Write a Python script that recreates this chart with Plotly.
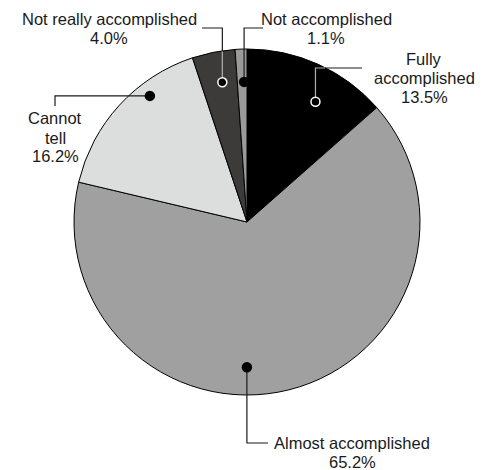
import math
import plotly.graph_objects as go

# ---- data ----
labels = ["Fully accomplished", "Almost accomplished", "Cannot tell",
          "Not really accomplished", "Not accomplished"]
values = [13.5, 65.2, 16.2, 4.0, 1.1]
label_lines = [["Fully", "accomplished"], ["Almost accomplished"], ["Cannot", "tell"],
               ["Not really accomplished"], ["Not accomplished"]]

# ---- style / layout ----
colors = ["#000000", "#a0a0a0", "#dcdddd", "#3d3a3a", "#9a9a9a"]
dark = [True, False, False, True, False]
W, H = 492, 470          # window size
OFF = 8                  # page body margin
FW, FH = W - OFF, H - OFF
CX, CY, R = 247, 222, 173
# dot placement within each slice: (fraction of slice sweep, fraction of radius)
dot_place = [(0.61, 0.80), (0.56, 0.84), (0.67, 0.92), (0.58, 0.82), (0.70, 0.81)]
# leader: 'v' = vertical first, 'h' = horizontal first; end point in px
leader = [("v", 362, 68), ("v", 268, 443), ("h", 55, 106), ("v", 202, 28), ("v", 263, 28)]
# label block centre in px
label_pos = [(424, 78), (352, 452.5), (55, 137.5), (109, 28.5), (326, 29)]
LINE_H = 19
FONT = "Liberation Sans, Arial, sans-serif"


def px(x):
    return (x - OFF) / FW


def py(y):
    return 1 - (y - OFF) / FH


total = sum(values)
starts, ends = [], []
acc = 0.0
for v in values:
    starts.append(acc / total * 360)
    acc += v
    ends.append(acc / total * 360)


def pt(angle, r):
    a = math.radians(angle)
    return CX + r * math.sin(a), CY - r * math.cos(a)


def dark_at(x, y):
    dx, dy = x - CX, y - CY
    if math.hypot(dx, dy) > R - 0.5:
        return False
    ang = math.degrees(math.atan2(dx, -dy)) % 360
    for i in range(len(values)):
        if starts[i] <= ang < ends[i]:
            return dark[i]
    return False


fig = go.Figure()
fig.add_trace(go.Pie(
    labels=labels, values=values, sort=False, direction="clockwise", rotation=0,
    marker=dict(colors=colors, line=dict(color="#000000", width=1)),
    textinfo="none", hoverinfo="label+percent",
    domain=dict(x=[px(CX - R), px(CX + R)], y=[py(CY + R), py(CY - R)]),
))

shapes = []
annotations = []
for i in range(len(values)):
    frac, rf = dot_place[i]
    ang = starts[i] + frac * (ends[i] - starts[i])
    dx0, dy0 = pt(ang, rf * R)
    mode, ex, ey = leader[i]
    corner = (dx0, ey) if mode == "v" else (ex, dy0)
    poly = [(dx0, dy0), corner, (ex, ey)]
    samples = []
    for (ax, ay), (bx, by) in zip(poly[:-1], poly[1:]):
        n = max(1, int(math.hypot(bx - ax, by - ay) / 0.5))
        for k in range(n + 1):
            t = k / n
            samples.append((ax + (bx - ax) * t, ay + (by - ay) * t))
    runs = []
    cur = [samples[0]]
    cur_d = dark_at(*samples[0])
    for s in samples[1:]:
        d = dark_at(*s)
        if d != cur_d:
            cur.append(s)
            runs.append((cur_d, cur))
            cur = [s]
            cur_d = d
        else:
            cur.append(s)
    runs.append((cur_d, cur))
    for d, run in runs:
        pts = [run[0]] + [p for p in run[1:-1]
                          if abs(p[0] - corner[0]) < 0.26 and abs(p[1] - corner[1]) < 0.26] + [run[-1]]
        path = "M " + " L ".join(f"{px(x):.5f},{py(y):.5f}" for x, y in pts)
        shapes.append(dict(type="path", path=path, xref="paper", yref="paper",
                           line=dict(color="#b0b0b0" if d else "#1a1a1a", width=1.2),
                           layer="above"))
    rr = 4.5
    shapes.append(dict(type="circle", xref="paper", yref="paper",
                       x0=px(dx0 - rr), x1=px(dx0 + rr), y0=py(dy0 + rr), y1=py(dy0 - rr),
                       fillcolor="#000000",
                       line=dict(color="#ffffff" if dark[i] else "#000000", width=1.5),
                       layer="above"))
    lines = label_lines[i] + [f"{values[i]:.1f}%"]
    lx, ly = label_pos[i]
    n = len(lines)
    for k, line in enumerate(lines):
        yk = ly + (k - (n - 1) / 2) * LINE_H
        annotations.append(dict(x=px(lx), y=py(yk), xref="paper", yref="paper", text=line,
                                showarrow=False, xanchor="center", yanchor="middle",
                                align="center",
                                font=dict(family=FONT, size=16.5, color="#1a1a1a")))

fig.update_layout(
    width=FW, height=FH, margin=dict(l=0, r=0, t=0, b=0),
    paper_bgcolor="#ffffff", plot_bgcolor="#ffffff", showlegend=False,
    shapes=shapes, annotations=annotations,
)
fig.write_html("out.html")
